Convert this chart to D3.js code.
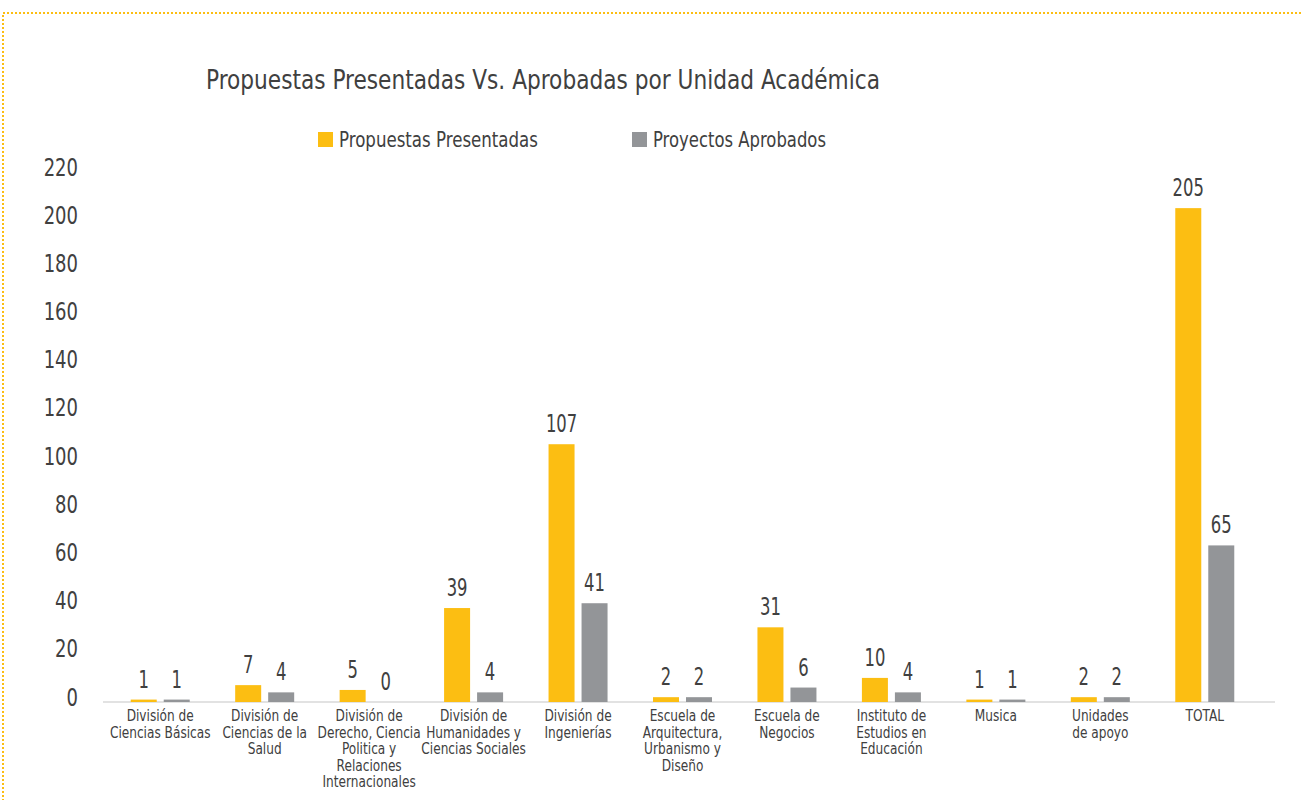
<!DOCTYPE html>
<html>
<head>
<meta charset="utf-8">
<script src="https://cdn.jsdelivr.net/npm/d3@7"></script>
<style>
  html, body { margin: 0; padding: 0; background: #fff; }
  svg text { font-family: "Liberation Sans Narrow", "DejaVu Sans Condensed", "Roboto", sans-serif; }
</style>
</head>
<body>
<svg id="chart" width="1302" height="800"></svg>
<script>
const title = "Propuestas Presentadas Vs. Aprobadas por Unidad Académica";
const seriesNames = ["Propuestas Presentadas", "Proyectos Aprobados"];
const seriesColors = ["#FCBE12", "#939598"];
const categories = [
  "División de\nCiencias Básicas",
  "División de\nCiencias de la\nSalud",
  "División de\nDerecho, Ciencia\nPolitica y\nRelaciones\nInternacionales",
  "División de\nHumanidades y\nCiencias Sociales",
  "División de\nIngenierías",
  "Escuela de\nArquitectura,\nUrbanismo y\nDiseño",
  "Escuela de\nNegocios",
  "Instituto de\nEstudios en\nEducación",
  "Musica",
  "Unidades\nde apoyo",
  "TOTAL"
];
const presentadas = [1, 7, 5, 39, 107, 2, 31, 10, 1, 2, 205];
const aprobados   = [1, 4, 0, 4, 41, 2, 6, 4, 1, 2, 65];
const yTicks = [0, 20, 40, 60, 80, 100, 120, 140, 160, 180, 200, 220];

const svg = d3.select("#chart");

function condense(sel, f) {
  sel.each(function () {
    const L = this.getComputedTextLength();
    d3.select(this).attr("textLength", L * f).attr("lengthAdjust", "spacingAndGlyphs");
  });
}

// dotted frame
svg.append("rect")
  .attr("x", 3).attr("y", 13).attr("width", 1400).attr("height", 900)
  .attr("fill", "none").attr("stroke", "#FCBE12").attr("stroke-width", 2)
  .attr("stroke-dasharray", "2,2");

const y = d3.scaleLinear().domain([0, 220]).range([702, 172]);
const x = d3.scaleBand().domain(categories.map((c, i) => i)).range([108, 1257]);
const xs = d3.scaleBand().domain([0, 1])
  .range([x.bandwidth() / 2 - 29.5, x.bandwidth() / 2 + 29.5])
  .paddingInner(7 / 33).paddingOuter(0);

// title
const tt = svg.append("text").attr("x", 543).attr("y", 80)
  .attr("text-anchor", "middle").attr("dominant-baseline", "central")
  .attr("font-size", 26).attr("fill", "#404040").text(title);
tt.attr("textLength", 674).attr("lengthAdjust", "spacingAndGlyphs");

// legend
const legendX = [318, 632];
const legendW = [199, 173];
seriesNames.forEach((name, i) => {
  svg.append("rect").attr("x", legendX[i]).attr("y", 132).attr("width", 15).attr("height", 15)
    .attr("fill", seriesColors[i]);
  svg.append("text").attr("x", legendX[i] + 21).attr("y", 139)
    .attr("dominant-baseline", "central").attr("font-size", 22)
    .attr("fill", "#404040").text(name)
    .attr("textLength", legendW[i]).attr("lengthAdjust", "spacingAndGlyphs");
});

// y tick labels
const yt = svg.append("g").selectAll("text").data(yTicks).join("text")
  .attr("x", 78).attr("y", d => y(d) - 5)
  .attr("text-anchor", "end").attr("dominant-baseline", "central")
  .attr("font-size", 25).attr("fill", "#404040").text(d => d);
condense(yt, 0.8);

// axis line
svg.append("line").attr("x1", 103).attr("x2", 1275).attr("y1", 702).attr("y2", 702)
  .attr("stroke", "#D9D9D9").attr("stroke-width", 1.5);

// bars
const seriesData = [presentadas, aprobados];
const groups = svg.append("g").selectAll("g").data(categories).join("g")
  .attr("transform", (d, i) => `translate(${x(i)},0)`);

seriesData.forEach((vals, s) => {
  groups.append("rect")
    .attr("x", xs(s)).attr("width", xs.bandwidth())
    .attr("y", (d, i) => y(vals[i]))
    .attr("height", (d, i) => y(0) - y(vals[i]))
    .attr("fill", seriesColors[s]);
  const lab = groups.append("text")
    .attr("x", xs(s) + xs.bandwidth() / 2)
    .attr("y", (d, i) => y(vals[i]) - 12)
    .attr("text-anchor", "middle")
    .attr("font-size", 24).attr("fill", "#404040")
    .text((d, i) => vals[i]);
  condense(lab, 0.76);
});

// category labels
groups.each(function (d) {
  const t = d3.select(this).append("text")
    .attr("text-anchor", "middle").attr("font-size", 15).attr("fill", "#404040");
  d.split("\n").forEach((line, k) => {
    t.append("tspan").attr("x", x.bandwidth() / 2).attr("y", 721 + k * 16.5).text(line);
  });
  condense(t.selectAll("tspan"), 0.9);
});
</script>
</body>
</html>
